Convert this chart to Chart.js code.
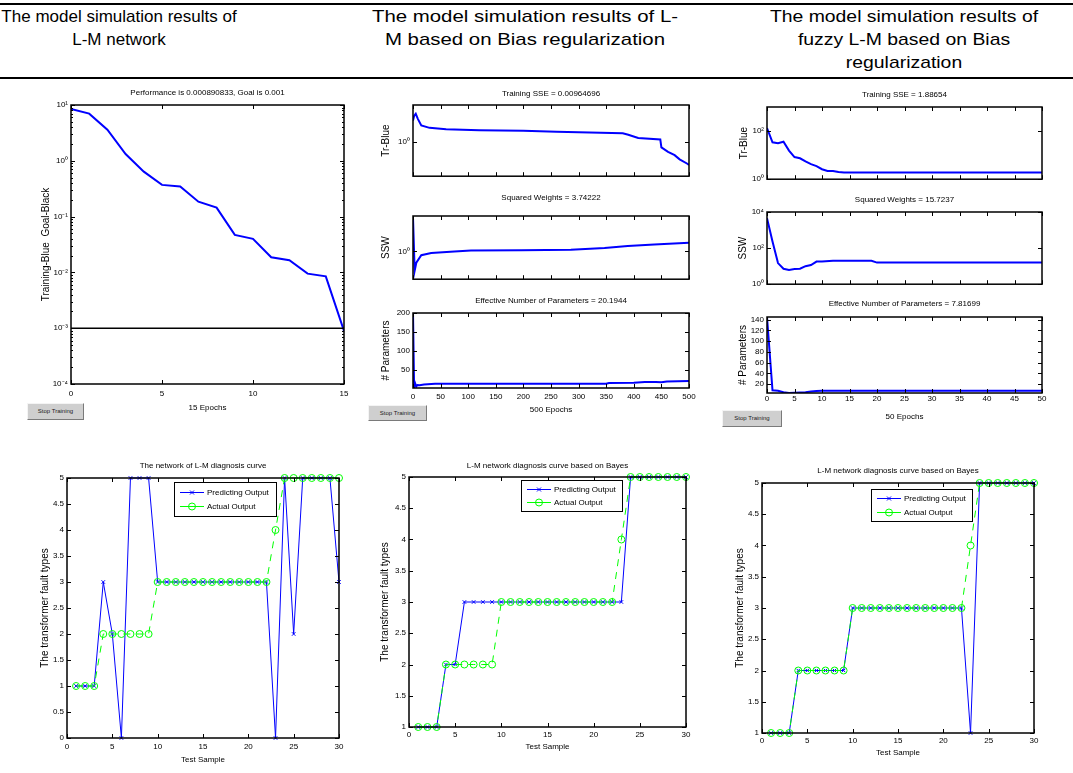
<!DOCTYPE html>
<html><head><meta charset="utf-8">
<script src="https://cdn.jsdelivr.net/npm/chart.js@4.4.1/dist/chart.umd.min.js"></script>
<style>
body{margin:0;background:#fff;width:1073px;height:773px;position:relative;overflow:hidden;font-family:"Liberation Sans",Arial,sans-serif;}
.hdr{position:absolute;top:5px;width:420px;font-size:17px;line-height:23px;text-align:center;color:#000;white-space:nowrap;}
.wide2{transform:scaleX(1.2);}
.wide3{transform:scaleX(1.14);}
.rule{position:absolute;left:0;width:1073px;background:#000;}
canvas{position:absolute;}
.btn{position:absolute;box-sizing:border-box;background:#cfcfcf;border:1px solid #f4f4f4;border-right-color:#7a7a7a;border-bottom-color:#7a7a7a;font-size:6px;line-height:14px;text-align:center;color:#222;}
</style>
</head><body>
<div class="rule" style="top:3px;height:2px"></div>
<div class="hdr" style="left:-91px">The model simulation results of<br>L-M network</div>
<div class="hdr wide2" style="left:315px">The model simulation results of L-<br>M based on Bias regularization</div>
<div class="hdr wide3" style="left:694px">The model simulation results of<br>fuzzy L-M based on Bias<br>regularization</div>
<div class="rule" style="top:77px;height:2px"></div>
<div class="btn" style="left:27px;top:403px;width:57px;height:17px">Stop Training</div>
<div class="btn" style="left:368px;top:405px;width:59px;height:16px">Stop Training</div>
<div class="btn" style="left:722px;top:410px;width:60px;height:17px">Stop Training</div>
<script>
// ---------- data ----------
const epochsA = [0,1,2,3,4,5,6,7,8,9,10,11,12,13,14,15];
const perfA   = [8.5,7.0,3.6,1.32,0.64,0.37,0.345,0.185,0.145,0.047,0.040,0.0187,0.0165,0.0095,0.0085,0.000891];
const goalA   = 0.001;
const ticksA  = [1e-4,1e-3,1e-2,1e-1,1,10];

const epochsB1 = [0,2,5,9,15,30,60,120,200,260,380,390,408,448,450,462,474,483,497,500];
const sseB     = [2.29,2.74,2.98,2.43,1.90,1.73,1.64,1.58,1.55,1.49,1.40,1.32,1.17,1.10,0.81,0.68,0.60,0.51,0.43,0.41];
const epochsB2 = [0,3,6,15,33,75,105,196,286,347,389,437,500];
const sswB     = [4.47,0.43,0.61,0.85,0.93,1.0,1.04,1.05,1.08,1.16,1.27,1.36,1.46];
const epochsB3 = [0,2,4,6,8,12,20,40,100,200,300,350,355,400,420,440,450,460,480,500];
const paramsB  = [200,4,14,6,10,9,11,13,13,13,13,13,15,16,18,18,17,19,20,20.19];
const ticksB3  = [50,100,150,200];

const epochsC1 = [0,1,2,3,4,5,6,7,8,9,10,11,12,13,14,20,30,40,50];
const sseC     = [134,34,31,36,15.5,8.3,7.4,5.5,4.2,3.5,2.6,2.2,2.2,2.0,1.9,1.89,1.89,1.89,1.8865];
const epochsC2 = [0,1,2,3,4,5,6,7,8,9,10,12,19,20,50];
const sswC     = [4570,234,14.8,7.2,6.2,6.9,7.2,10,11.6,17.9,17.9,20,20,15.7,15.72];
const epochsC3 = [0,1,2,3,4,5,6,7,8,9,10,50];
const paramsC  = [145,8.4,7.8,4.8,3.5,4,4.5,5,6.4,7,7.8,7.817];
const ticksC3  = [20,40,60,80,100,120,140];

const samples   = [1,2,3,4,5,6,7,8,9,10,11,12,13,14,15,16,17,18,19,20,21,22,23,24,25,26,27,28,29,30];
const actualOut = [1,1,1,2,2,2,2,2,2,3,3,3,3,3,3,3,3,3,3,3,3,3,4,5,5,5,5,5,5,5];
const predD1    = [1,1,1,3,2,0,5,5,5,3,3,3,3,3,3,3,3,3,3,3,3,3,0,5,2,5,5,5,5,3];
const predD2    = [1,1,1,2,2,3,3,3,3,3,3,3,3,3,3,3,3,3,3,3,3,3,3,5,5,5,5,5,5,5];
const predD3    = [1,1,1,2,2,2,2,2,2,3,3,3,3,3,3,3,3,3,3,3,3,3,1,5,5,5,5,5,5,5];
const ticksD1   = [0,0.5,1,1.5,2,2.5,3,3.5,4,4.5,5];
const ticksD23  = [1,1.5,2,2.5,3,3.5,4,4.5,5];

// ---------- helpers ----------
const FAM = '"Liberation Sans", Arial, sans-serif';
Chart.defaults.font.family = FAM;
Chart.defaults.color = '#000';
Chart.defaults.animation = false;
const BLUE = '#0000ff', GREEN = '#00ff00';
const SUP = {'-':'\u207B','0':'\u2070','1':'\u00B9','2':'\u00B2','3':'\u00B3','4':'\u2074'};
const pow10Label = v => '10' + String(Math.round(Math.log10(v))).split('').map(c => SUP[c]).join('');
const numLabel = v => String(Math.round(v * 100) / 100);
const pts = (xs, ys) => xs.map((x, i) => ({x, y: ys[i]}));

const matlabAxes = {
  id: 'matlabAxes',
  afterDatasetsDraw(chart, args, o) {
    const {ctx, chartArea: a, scales: {x, y}} = chart;
    ctx.save();
    ctx.strokeStyle = '#000';
    ctx.lineWidth = 1;
    ctx.beginPath();
    const tl = 4;
    x.ticks.forEach(t => {
      const p = Math.round(x.getPixelForValue(t.value)) + 0.5;
      ctx.moveTo(p, a.bottom); ctx.lineTo(p, a.bottom - tl);
      ctx.moveTo(p, a.top); ctx.lineTo(p, a.top + tl);
    });
    y.ticks.forEach(t => {
      const p = Math.round(y.getPixelForValue(t.value)) + 0.5;
      ctx.moveTo(a.left, p); ctx.lineTo(a.left + tl, p);
      ctx.moveTo(a.right, p); ctx.lineTo(a.right - tl, p);
    });
    if (o.minor) {
      for (let e = Math.floor(Math.log10(y.min)); e < Math.log10(y.max); e++) {
        for (let m = 2; m <= 9; m++) {
          const v = m * Math.pow(10, e);
          if (v <= y.min || v >= y.max) continue;
          const p = Math.round(y.getPixelForValue(v)) + 0.5;
          ctx.moveTo(a.left, p); ctx.lineTo(a.left + 2, p);
          ctx.moveTo(a.right, p); ctx.lineTo(a.right - 2, p);
        }
      }
    }
    ctx.stroke();
    ctx.lineWidth = 1.5;
    ctx.strokeRect(a.left, a.top, a.right - a.left, a.bottom - a.top);
    if (o.legend) {
      const [L, T, R, B] = o.legend.map((v, i) => v - (i % 2 ? o.off[1] : o.off[0]));
      ctx.fillStyle = '#fff';
      ctx.fillRect(L, T, R - L, B - T);
      ctx.lineWidth = 1;
      ctx.strokeRect(L + 0.5, T + 0.5, R - L, B - T);
      chart.data.datasets.forEach((ds, i) => {
        const yy = Math.round(T + (B - T) * (i === 0 ? 0.28 : 0.72)) + 0.5;
        ctx.strokeStyle = ds.borderColor;
        ctx.lineWidth = 1;
        ctx.beginPath(); ctx.moveTo(L + 6, yy); ctx.lineTo(L + 30, yy); ctx.stroke();
        const cx = L + 18, r = ds.pointRadius;
        ctx.beginPath();
        if (ds.pointStyle === 'circle') { ctx.arc(cx, yy, r, 0, Math.PI * 2); }
        else { const d = r * 0.8; ctx.moveTo(cx - d, yy - d); ctx.lineTo(cx + d, yy + d); ctx.moveTo(cx - d, yy + d); ctx.lineTo(cx + d, yy - d); }
        ctx.stroke();
        ctx.fillStyle = '#000';
        ctx.font = '8px ' + FAM;
        ctx.textBaseline = 'middle';
        ctx.textAlign = 'left';
        ctx.fillText(ds.label, L + 33, yy);
      });
    }
    ctx.restore();
  }
};

function build(spec) {
  const [l, t, r, b] = spec.plot;
  const tfs = 8, tlh = tfs * 1.2, yfs = 10, ylh = yfs * 1.2, kfs = 8, klh = kfs * 1.2;
  const cL = Math.floor(spec.ylabX - ylh / 2);
  const cT = Math.floor(spec.titleY - tlh / 2);
  const cR = r + 14;
  const cB = spec.xlabY ? Math.ceil(spec.xlabY + klh / 2 + 1) : b + 3;
  const W = cR - cL, H = cB - cT;
  const cv = document.createElement('canvas');
  cv.width = W; cv.height = H;
  cv.style.left = cL + 'px'; cv.style.top = cT + 'px';
  cv.style.width = W + 'px'; cv.style.height = H + 'px';
  document.body.appendChild(cv);
  const yScale = {
    type: spec.ylog ? 'logarithmic' : 'linear',
    min: spec.yr[0], max: spec.yr[1],
    grid: {display: false, drawTicks: false}, border: {display: false},
    ticks: {font: {size: kfs}, padding: 3, autoSkip: false, callback: spec.ylog ? pow10Label : numLabel},
    afterBuildTicks: s => { s.ticks = spec.ymajor.map(v => ({value: v})); },
    title: {display: true, text: spec.ylabel, font: {size: yfs}, padding: {top: spec.ylabX - ylh / 2 - cL, bottom: 0}},
    afterFit: s => { s.width = l - cL; }
  };
  const xScale = {
    type: 'linear', position: 'bottom',
    min: spec.xr[0], max: spec.xr[1],
    grid: {display: false, drawTicks: false}, border: {display: false},
    ticks: {display: !!spec.xlabY, stepSize: spec.xr[2], font: {size: kfs}, maxRotation: 0, autoSkip: false,
            padding: spec.xtickY ? spec.xtickY - b - klh / 2 : 0},
    title: {display: !!spec.xlabY, text: spec.xlabel || '', font: {size: kfs},
            padding: {top: 0, bottom: spec.xlabY ? cB - spec.xlabY - klh / 2 : 0}},
    afterFit: s => { s.height = cB - b; }
  };
  return new Chart(cv, {
    type: 'line',
    data: {datasets: spec.datasets},
    options: {
      responsive: false, devicePixelRatio: 1,
      layout: {padding: {left: 0, top: 0, right: cR - r, bottom: 0}},
      scales: {x: xScale, y: yScale},
      plugins: {
        legend: {display: false}, tooltip: {enabled: false},
        title: {display: true, text: spec.title, fullSize: false, font: {size: tfs, weight: 'normal', lineHeight: 1.2},
                padding: {top: spec.titleY - tlh / 2 - cT, bottom: t - spec.titleY - tlh / 2}},
        matlabAxes: {minor: !!spec.minor, legend: spec.legend || null, off: [cL, cT]}
      }
    },
    plugins: [matlabAxes]
  });
}

const trainLine = (xs, ys) => ({label: 'Training', data: pts(xs, ys), borderColor: BLUE, borderWidth: 2, pointRadius: 0, tension: 0});

// ---------- top-left ----------
build({plot: [71, 105, 344, 384], titleY: 93, ylabX: 46.7, xtickY: 394, xlabY: 408,
  title: 'Performance is 0.000890833, Goal is 0.001', ylabel: 'Training-Blue  Goal-Black', xlabel: '15 Epochs',
  xr: [0, 15, 5], ylog: true, yr: [1e-4, 10], ymajor: ticksA, minor: true,
  datasets: [
    {label: 'Goal', data: pts([0, 15], [goalA, goalA]), borderColor: '#000', borderWidth: 1.5, pointRadius: 0},
    trainLine(epochsA, perfA)
  ]});

// ---------- middle column ----------
build({plot: [413, 105, 689, 181], titleY: 94, ylabX: 386.7,
  title: 'Training SSE = 0.00964696', ylabel: 'Tr-Blue',
  xr: [0, 500, 50], ylog: true, yr: [0.265, 4.2], ymajor: [1],
  datasets: [trainLine(epochsB1, sseB)]});
build({plot: [413, 216, 689, 284], titleY: 197.7, ylabX: 386.7,
  title: 'Squared Weights = 3.74222', ylabel: 'SSW',
  xr: [0, 500, 50], ylog: true, yr: [0.297, 4.71], ymajor: [1],
  datasets: [trainLine(epochsB2, sswB)]});
build({plot: [413, 313, 689, 388], titleY: 300.7, ylabX: 386.7, xtickY: 396.7, xlabY: 410,
  title: 'Effective Number of Parameters = 20.1944', ylabel: '# Parameters', xlabel: '500 Epochs',
  xr: [0, 500, 50], yr: [2, 200], ymajor: ticksB3,
  datasets: [trainLine(epochsB3, paramsB)]});

// ---------- right column ----------
build({plot: [767, 107, 1042, 184], titleY: 95, ylabX: 744,
  title: 'Training SSE = 1.88654', ylabel: 'Tr-Blue',
  xr: [0, 50, 5], ylog: true, yr: [1, 1000], ymajor: [1, 100],
  datasets: [trainLine(epochsC1, sseC)]});
build({plot: [767, 212, 1042, 289], titleY: 199.3, ylabX: 743,
  title: 'Squared Weights = 15.7237', ylabel: 'SSW',
  xr: [0, 50, 5], ylog: true, yr: [1, 10000], ymajor: [1, 100, 10000],
  datasets: [trainLine(epochsC2, sswC)]});
build({plot: [767, 317, 1042, 393], titleY: 304, ylabX: 743, xtickY: 399, xlabY: 417,
  title: 'Effective Number of Parameters = 7.81699', ylabel: '# Parameters', xlabel: '50 Epochs',
  xr: [0, 50, 5], yr: [3.5, 145], ymajor: ticksC3,
  datasets: [trainLine(epochsC3, paramsC)]});

// ---------- bottom row ----------
const predDs = ys => ({label: 'Predicting Output', data: pts(samples, ys), borderColor: BLUE, backgroundColor: BLUE,
  borderWidth: 1, pointStyle: 'crossRot', pointRadius: 2.5, pointBorderWidth: 1, order: 1, clip: 6});
const actDs = () => ({label: 'Actual Output', data: pts(samples, actualOut), borderColor: GREEN, backgroundColor: 'rgba(0,0,0,0)',
  borderWidth: 1, borderDash: [7, 6], pointStyle: 'circle', pointRadius: 3.5, pointBorderWidth: 1, order: 0, clip: 6});

build({plot: [67, 478, 339, 738], titleY: 466, ylabX: 45, xtickY: 747, xlabY: 760,
  title: 'The network of L-M diagnosis curve', ylabel: 'The transformer fault types', xlabel: 'Test Sample',
  xr: [0, 30, 5], yr: [0, 5], ymajor: ticksD1, legend: [174, 482, 276, 516],
  datasets: [predDs(predD1), actDs()]});
build({plot: [409, 477, 686, 727], titleY: 466, ylabX: 385, xtickY: 735, xlabY: 747,
  title: 'L-M network diagnosis curve based on Bayes', ylabel: 'The transformer fault types', xlabel: 'Test Sample',
  xr: [0, 30, 5], yr: [1, 5], ymajor: ticksD23, legend: [521, 480, 622, 511],
  datasets: [predDs(predD2), actDs()]});
build({plot: [762, 483, 1034, 733], titleY: 471, ylabX: 740, xtickY: 741, xlabY: 753,
  title: 'L-M network diagnosis curve based on Bayes', ylabel: 'The transformer fault types', xlabel: 'Test Sample',
  xr: [0, 30, 5], yr: [1, 5], ymajor: ticksD23, legend: [871, 489, 972, 521],
  datasets: [predDs(predD3), actDs()]});
</script>
</body></html>
